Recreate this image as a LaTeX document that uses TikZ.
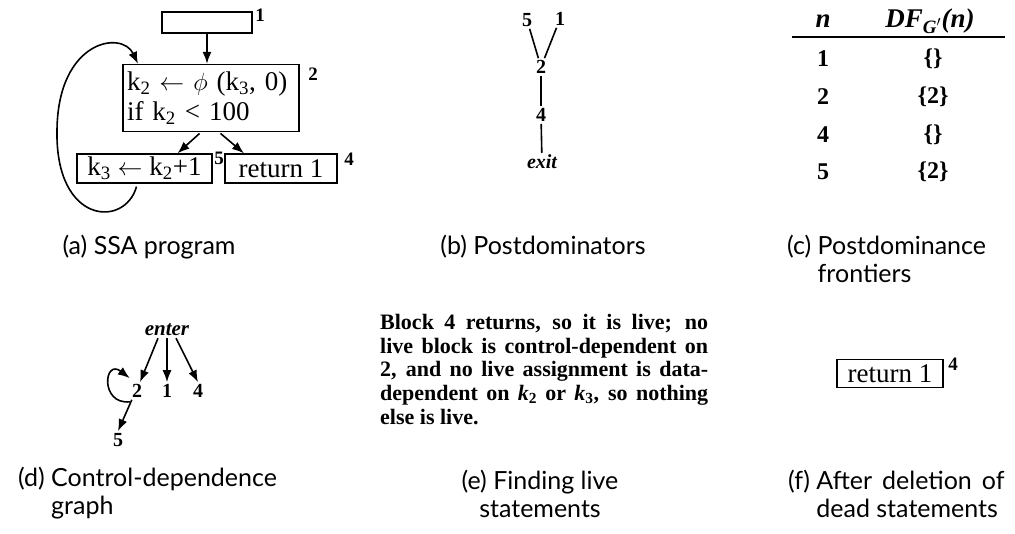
\documentclass[tikz,border=0pt]{standalone}
\usepackage{fontspec}
\setmainfont{Liberation Serif}
\newfontfamily\capfont{Lato}
\usetikzlibrary{arrows.meta,positioning,calc}

\begin{document}
\begin{tikzpicture}[
    x=1pt, y=-1pt,
    block/.style={draw, line width=1.3pt, inner sep=2pt, font=\fontsize{27}{30}\selectfont},
    arrow/.style={-{Latex[length=12pt,width=9pt]}, line width=1.6pt},
    edge/.style={line width=1.6pt},
    tag/.style={font=\bfseries\fontsize{19}{20}\selectfont, inner sep=1pt},
    vertex/.style={font=\bfseries\fontsize{20}{22}\selectfont, inner sep=2pt},
    entry/.style={font=\bfseries\fontsize{24}{26}\selectfont, inner sep=1pt},
    caption/.style={font=\capfont\fontsize{25}{28}\selectfont, inner sep=0pt},
    prose/.style={font=\bfseries\fontsize{22}{23.7}\selectfont, inner sep=0pt, text width=328pt, align=justify}
]
    \useasboundingbox (0,0) rectangle (1015,534);

    % (a) SSA program
    \node[block, minimum width=90pt, minimum height=21pt] (b1) at (207,22.5) {};
    \node[block, minimum width=176pt, minimum height=67pt, text width=168pt, align=left] (b2) at (211,98)
        {k\textsubscript{2} $\leftarrow$ $\phi$ (k\textsubscript{3}, 0)\\if k\textsubscript{2} < 100};
    \node[block, minimum width=135pt, minimum height=29pt] (b5) at (144.5,168.5) {k\textsubscript{3} $\leftarrow$ k\textsubscript{2}+1};
    \node[block, minimum width=112pt, minimum height=29pt] (b4) at (281,168.5) {return 1};
    \node[tag] (t1) at (260,15) {1};
    \node[tag] (t2) at (313,74) {2};
    \node[tag] (t5) at (219,158) {5};
    \node[tag] (t4) at (349,159) {4};

    \draw[arrow] (b1.south) -- (b1.south |- b2.north);
    \draw[arrow, shorten <=2pt] ([xshift=-10pt]b2.south) -- ([xshift=33pt]b5.north);
    \draw[arrow, shorten <=2pt] ([xshift=8pt]b2.south) -- ([xshift=-37pt]b4.north);
    \draw[arrow] ([xshift=-8pt, yshift=-3pt]b5.south) .. controls (125,228) and (55,225) .. (57,130)
        .. controls (58,40) and (122,30) .. ([xshift=-73pt]b2.north);

    % (b) Postdominators
    \node[vertex] (p5) at (527,20) {5};
    \node[vertex] (p1) at (560,19) {1};
    \node[vertex] (p2) at (541,67) {2};
    \node[vertex] (p4) at (541,115) {4};
    \node[vertex, font=\bfseries\itshape\fontsize{20}{22}\selectfont] (pexit) at (542,162) {exit};
    \draw[edge] (p5) -- (p2);
    \draw[edge] (p1) -- (p2);
    \draw[edge] (p2) -- (p4);
    \draw[edge] (p4) -- (pexit);

    % (c) Postdominance frontiers
    \node[entry, font=\bfseries\itshape\fontsize{27}{28}\selectfont] (hn) at (823,21) {n};
    \node[entry, font=\bfseries\itshape\fontsize{27}{28}\selectfont] (hdf) at (930,21) {DF\textsubscript{G$'$}(n)};
    \coordinate (rulel) at (792,37);
    \coordinate (ruler) at (1005,37);
    \draw[line width=1.2pt] (rulel) -- (ruler);
    \foreach \n/\d/\y [count=\i] in {1/\{\}/59, 2/\{2\}/97, 4/\{\}/135, 5/\{2\}/172} {
        \node[entry] (rn\i) at (823,\y) {\n};
        \node[entry] (rd\i) at (933,\y) {\d};
    }

    % (d) Control-dependence graph
    \node[vertex, font=\bfseries\itshape\fontsize{21}{22}\selectfont] (enter) at (167,330) {enter};
    \node[vertex] (d2) at (137,391) {2};
    \node[vertex] (d1) at (167,391) {1};
    \node[vertex] (d4) at (198,391) {4};
    \node[vertex] (d5) at (118,440) {5};
    \draw[arrow] ([xshift=-9pt]enter.south) -- ([xshift=3pt]d2.north);
    \draw[arrow] (enter.south) -- (d1.north);
    \draw[arrow] ([xshift=9pt]enter.south) -- (d4.north);
    \draw[arrow] ([xshift=2pt]d2.south west) -- (d5.north);
    \draw[arrow] ([yshift=-2pt]d2.south west) .. controls +(-30,3) and +(-26,-20) .. ([yshift=4pt]d2.north west);

    % (e) Finding live statements
    \node[prose, anchor=north west] (txt) at (380,314)
        {Block 4 returns, so it is live; no\linebreak live block is control-dependent on\linebreak
         2, and no live assignment is data-\linebreak dependent on \textit{k}\textsubscript{2} or \textit{k}\textsubscript{3}, so nothing\linebreak else is live.};

    % (f) After deletion of dead statements
    \node[block, minimum width=106pt, minimum height=28pt] (f4) at (890,373.5) {return 1};
    \node[tag] (ft4) at (953,364) {4};

    % Captions
    \node[caption] (capa) at (149,247) {(a) SSA program};
    \node[caption] (capb) at (543,247) {(b) Postdominators};
    \node[caption, anchor=north west, align=left] (capc) at (787,235) {(c) Postdominance\\\hphantom{(c)~}frontiers};
    \node[caption, anchor=north west, align=left] (capd) at (18,467) {(d) Control-dependence\\\hphantom{(d)~}graph};
    \node[caption, anchor=north, align=center] (cape) at (540,470) {(e) Finding live\\statements};
    \node[caption, anchor=north west, align=left] (capf) at (788,470) {(f) After\hskip 10pt deletion\hskip 10pt of\\\hphantom{(f)~}dead statements};
\end{tikzpicture}
\end{document}
